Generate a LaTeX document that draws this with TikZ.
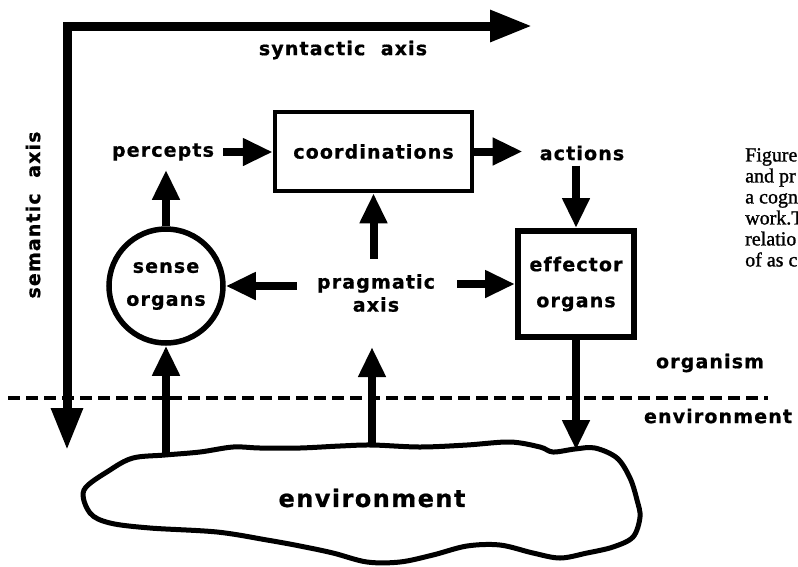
\documentclass[tikz,border=0pt]{standalone}
\usepackage{fontspec}
\setmainfont{Liberation Serif}[FakeBold=1.2]
\newfontfamily\labfont[LetterSpace=6, Ligatures=CommonOff, FakeBold=0.8]{DejaVu Sans}
\usetikzlibrary{arrows.meta}
\begin{document}
\begin{tikzpicture}[x=1pt,y=-1pt,
  lab/.style={font=\labfont\bfseries\fontsize{19}{33}\selectfont, inner sep=0pt, align=center},
  fat/.style={line width=8pt, -{Triangle[length=30pt,width=26pt]}},
  axisline/.style={line width=9pt, line join=miter,
    {Triangle[length=42pt,width=30pt]}-{Triangle[length=42pt,width=30pt]}},
  blob/.style={line width=5pt, line join=round},
  orgline/.style={line width=4pt, dash pattern=on 12pt off 6pt}]
\useasboundingbox (0,0) rectangle (798,566);

% organism / environment boundary
\coordinate (dashL) at (8,398);
\coordinate (dashR) at (768,398);
\draw[orgline] (dashL) -- (dashR);

% syntactic and semantic axes
\coordinate (corner) at (67,26);
\coordinate (synTip) at (532,26);
\coordinate (semTip) at (67,450);
\draw[axisline] (semTip) -- (corner) -- (synTip);
\node[lab] (syn) at (343,50) {syntactic\ \ axis};
\node[lab, rotate=90] (sem) at (33,215) {semantic\ \ axis};

% the environment
\draw[blob] plot[smooth cycle, tension=0.55] coordinates {
  (133,458) (165,455) (200,452) (233,447) (260,448) (300,448) (340,446)
  (372,445) (420,447) (467,445) (510,442) (540,447) (553,452) (575,449)
  (595,448) (617,458) (630,478) (637,500) (640,517) (633,537) (613,547)
  (587,553) (560,558) (533,553) (500,545) (467,546) (433,555) (400,562)
  (367,562) (333,553) (300,546) (267,540) (217,532) (150,528) (110,523)
  (90,513) (84,490) (110,470)};
\node[lab, font=\labfont\bfseries\fontsize{24}{30}\selectfont] (envtext) at (372,498) {environment};
\coordinate (envL) at (166,456);
\coordinate (envM) at (372,446);
\coordinate (envR) at (576,450);

% organism components
\node[lab] (percepts) at (163,152) {percepts};
\node[lab, draw, line width=4.5pt, minimum width=197pt, minimum height=79pt] (coord) at (373.5,151.5) {coordinations};
\node[lab] (actions) at (582,153) {actions};
\node[lab, draw, line width=6pt, minimum width=116pt, minimum height=106pt,
      font=\labfont\bfseries\fontsize{19}{36}\selectfont] (effector) at (576,284) {effector\\organs};
\node[lab, draw, circle, line width=5.5pt, minimum size=114pt] (sense) at (166,286) {sense\\organs};
\node[lab, font=\labfont\bfseries\fontsize{19}{23}\selectfont] (prag) at (376,293) {pragmatic\\axis};

% side labels
\node[lab] (organism) at (710,363) {organism};
\node[lab] (envlabel) at (718,416) {environment};

% flows
\draw[fat, shorten <=9pt] (percepts.east) -- (percepts.east -| coord.west);
\draw[fat, shorten >=17pt] (coord.east) -- (coord.east -| actions.west);
\draw[fat, shorten <=5pt] (effector.north |- actions.south) -- (effector.north);
\draw[fat, shorten >=9pt] (sense.north) -- (sense.north |- percepts.south);
\draw[fat, shorten <=15pt] (coord.south |- prag.north) -- (coord.south);
\draw[fat, shorten <=20pt] (prag.west |- sense.east) -- (sense.east);
\draw[fat, shorten <=22pt] (prag.east |- effector.west) -- (effector.west);
\draw[fat] (effector.south) -- (envR);
\draw[fat] (envL) -- (sense.south);
\draw[fat, shorten >=35pt] (envM) -- (envM |- prag.south);

% caption
\node[anchor=north west, align=left, inner sep=0pt,
      font=\fontsize{20}{21}\selectfont] (caption) at (745,148)
  {Figure\\and pr\\a cogn\\work.T\\relatio\\of as c};
\end{tikzpicture}
\end{document}
